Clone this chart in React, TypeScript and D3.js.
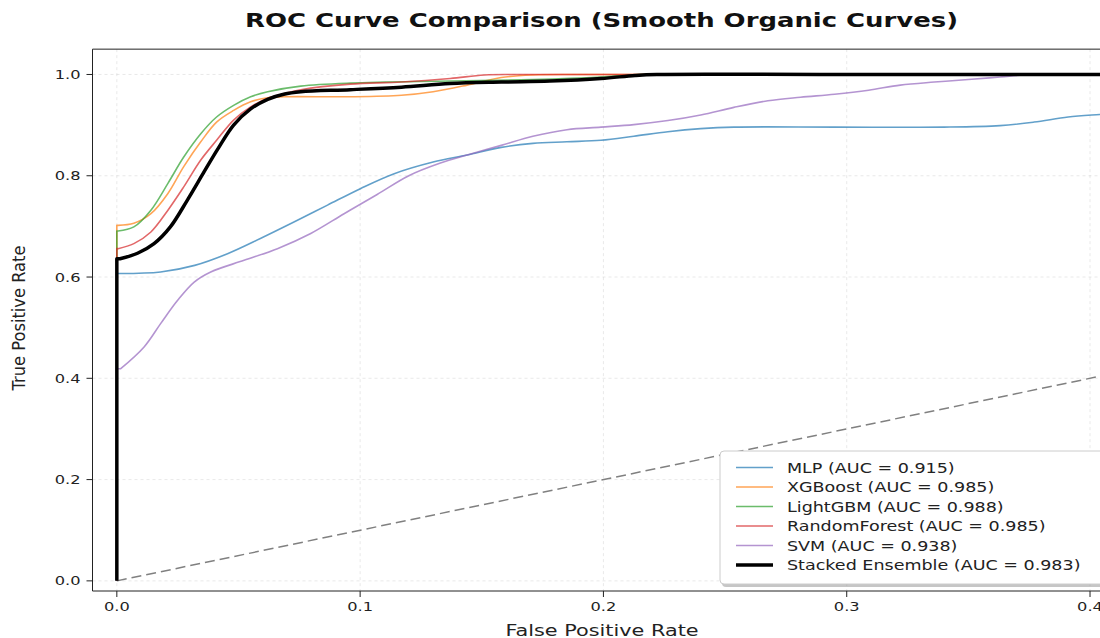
import React from "react";
import * as d3 from "d3";

// ROC points, [fpr, tpr]; each curve starts at (0,0)
const mlpRoc: [number, number][] = [
  [0.0016, 0.607], [0.018, 0.61], [0.032, 0.623], [0.0455, 0.646], [0.059, 0.676],
  [0.073, 0.709], [0.0866, 0.742], [0.1003, 0.775], [0.114, 0.804], [0.13, 0.827],
  [0.144, 0.841], [0.158, 0.856], [0.171, 0.864], [0.185, 0.867], [0.199, 0.87],
  [0.2125, 0.878], [0.2265, 0.887], [0.24, 0.893], [0.2536, 0.896], [0.295, 0.896],
  [0.34, 0.896], [0.363, 0.899], [0.377, 0.906], [0.391, 0.916], [0.404, 0.921],
  [0.42, 0.926],
];
const xgbRoc: [number, number][] = [
  [0.0005, 0.702], [0.007, 0.706], [0.014, 0.725], [0.021, 0.765], [0.0275, 0.818],
  [0.0345, 0.867], [0.041, 0.906], [0.048, 0.929], [0.055, 0.946], [0.062, 0.954],
  [0.0686, 0.956], [0.096, 0.956], [0.117, 0.959], [0.13, 0.966], [0.144, 0.979],
  [0.158, 0.994], [0.171, 0.999], [0.19, 1.0], [0.3, 1.0], [1.0, 1.0],
];
const lgbmRoc: [number, number][] = [
  [0.0005, 0.691], [0.007, 0.699], [0.014, 0.732], [0.021, 0.785], [0.0275, 0.837],
  [0.0345, 0.883], [0.041, 0.916], [0.048, 0.939], [0.055, 0.956], [0.062, 0.966],
  [0.0756, 0.977], [0.096, 0.983], [0.137, 0.987], [0.171, 0.99], [0.199, 0.995],
  [0.215, 1.0], [0.3, 1.0], [1.0, 1.0],
];
const rfRoc: [number, number][] = [
  [0.0005, 0.656], [0.007, 0.666], [0.014, 0.689], [0.021, 0.732], [0.0275, 0.778],
  [0.0345, 0.831], [0.041, 0.87], [0.048, 0.91], [0.055, 0.936], [0.062, 0.953],
  [0.0686, 0.962], [0.0756, 0.97], [0.096, 0.981], [0.117, 0.985], [0.137, 0.992],
  [0.151, 0.999], [0.165, 1.0], [0.3, 1.0], [1.0, 1.0],
];
const svmRoc: [number, number][] = [
  [0.0016, 0.419], [0.0112, 0.462], [0.018, 0.508], [0.025, 0.554], [0.0318, 0.59],
  [0.0386, 0.61], [0.0523, 0.633], [0.066, 0.656], [0.0797, 0.686], [0.0934, 0.725],
  [0.107, 0.763], [0.12, 0.8], [0.133, 0.825], [0.144, 0.841], [0.158, 0.86],
  [0.171, 0.878], [0.185, 0.891], [0.199, 0.896], [0.2125, 0.901], [0.2265, 0.909],
  [0.24, 0.92], [0.2536, 0.935], [0.2676, 0.948], [0.281, 0.955], [0.295, 0.961],
  [0.309, 0.969], [0.322, 0.979], [0.336, 0.985], [0.35, 0.99], [0.363, 0.995],
  [0.376, 1.0], [0.45, 1.0], [1.0, 1.0],
];
const stackedRoc: [number, number][] = [
  [0.0013, 0.636], [0.0085, 0.647], [0.0153, 0.666], [0.022, 0.699], [0.029, 0.752],
  [0.0359, 0.808], [0.0414, 0.852], [0.048, 0.9], [0.055, 0.932], [0.062, 0.951],
  [0.0686, 0.961], [0.0756, 0.966], [0.096, 0.97], [0.117, 0.975], [0.137, 0.982],
  [0.158, 0.985], [0.178, 0.987], [0.199, 0.992], [0.213, 0.998], [0.222, 1.0],
  [0.3, 1.0], [1.0, 1.0],
];

const modelNames = ["MLP", "XGBoost", "LightGBM", "RandomForest", "SVM", "Stacked Ensemble"];
const aucValues = [0.915, 0.985, 0.988, 0.985, 0.938, 0.983];
const rocCurves = [mlpRoc, xgbRoc, lgbmRoc, rfRoc, svmRoc, stackedRoc];
const curveColors = ["#1f77b4", "#ff7f0e", "#2ca02c", "#d62728", "#9467bd", "#000000"];

const xTicks = [0, 0.1, 0.2, 0.3, 0.4];
const yTicks = [0, 0.2, 0.4, 0.6, 0.8, 1.0];

const W = 1100;
const H = 638;
const FONT = "DejaVu Sans";
const SX = 1.3; // the reference is stretched wide, so text is too

export default function App() {
  // the frame starts at x=92 and runs past the right edge of the picture
  const x = d3.scaleLinear().domain([-0.01, 0.42]).range([92.5, 92.5 + 0.43 * 2433]);
  const y = d3.scaleLinear().domain([-0.02, 1.05]).range([591, 591 - 1.07 * 506.4]);
  const left = x(-0.01);
  const top = y(1.05);
  const bottom = y(-0.02);

  const line = d3.line<[number, number]>()
    .x(d => x(d[0]))
    .y(d => y(d[1]))
    .curve(d3.curveCatmullRom.alpha(0.5));

  // vertical jump at fpr=0, then the smooth part
  const rocPath = (pts: [number, number][]) =>
    `M${x(0)},${y(0)}L${x(0)},${y(pts[0][1])}` + "L" + (line(pts) || "").slice(1);

  const legendX = 720;
  const legendY = 451;
  const rowH = 19.5;

  return (
    <svg width={W} height={H} style={{position: "absolute", left: 0, top: 0, background: "#fff"}}
      fontFamily={FONT}>
      <defs>
        <clipPath id="plot-clip">
          <rect x={left} y={top} width={W - left + 20} height={bottom - top}/>
        </clipPath>
      </defs>
      <rect width={W} height={H} fill="#fff"/>

      {/* grid */}
      <g stroke="#b0b0b0" strokeOpacity={0.4} strokeWidth={0.7} strokeDasharray="3,3">
        {xTicks.map(t => <line key={"gx" + t} x1={x(t)} x2={x(t)} y1={top} y2={bottom}/>)}
        {yTicks.map(t => <line key={"gy" + t} x1={left} x2={W + 20} y1={y(t)} y2={y(t)}/>)}
      </g>

      <g clipPath="url(#plot-clip)">
        {/* chance diagonal */}
        <line x1={x(0)} y1={y(0)} x2={x(1)} y2={y(1)} stroke="#808080" strokeWidth={1.5}
          strokeDasharray="10,5"/>
        {rocCurves.map((pts, i) => (
          <path key={modelNames[i]} d={rocPath(pts)} fill="none" stroke={curveColors[i]}
            strokeOpacity={i === 5 ? 1 : 0.7} strokeWidth={i === 5 ? 3.5 : 1.6}
            strokeLinejoin="round"/>
        ))}
      </g>

      {/* frame */}
      <g stroke="#222" strokeWidth={1} fill="none">
        <line x1={left} x2={W + 20} y1={top} y2={top}/>
        <line x1={left} x2={W + 20} y1={bottom} y2={bottom}/>
        <line x1={left} x2={left} y1={top} y2={bottom}/>
      </g>

      {/* x axis */}
      {xTicks.map(t => (
        <g key={"xt" + t}>
          <line x1={x(t)} x2={x(t)} y1={bottom} y2={bottom + 6} stroke="#222"/>
          <text transform={`translate(${x(t)},${bottom + 19.5}) scale(${SX},1)`} textAnchor="middle"
            fontSize={12.5} fill="#222">{t.toFixed(1)}</text>
        </g>
      ))}
      {/* y axis */}
      {yTicks.map(t => (
        <g key={"yt" + t}>
          <line x1={left - 6} x2={left} y1={y(t)} y2={y(t)} stroke="#222"/>
          <text transform={`translate(${left - 12},${y(t) + 4.5}) scale(${SX},1)`} textAnchor="end"
            fontSize={12.5} fill="#222">{t.toFixed(1)}</text>
        </g>
      ))}

      <text transform={`translate(602,636) scale(${SX},1)`} textAnchor="middle" fontSize={16}
        fill="#222">False Positive Rate</text>
      <text transform="translate(25,318) rotate(-90) scale(1,1.15)" textAnchor="middle" fontSize={16}
        textLength={145} lengthAdjust="spacingAndGlyphs" fill="#222">True Positive Rate</text>
      <text x={601.5} y={26.5} textAnchor="middle" fontSize={19} fontWeight="bold"
        textLength={713} lengthAdjust="spacingAndGlyphs" fill="#111">
        ROC Curve Comparison (Smooth Organic Curves)
      </text>

      {/* legend */}
      <g>
        <rect x={legendX + 2} y={legendY + 3} width={400} height={133} rx={4} fill="#808080"
          fillOpacity={0.45}/>
        <rect x={legendX} y={legendY} width={400} height={133} rx={4} fill="#fff"
          stroke="#cccccc" strokeWidth={1}/>
        {modelNames.map((name, i) => {
          const cy = legendY + 16.5 + i * rowH;
          return (
            <g key={"lg" + name}>
              <line x1={736} x2={773} y1={cy} y2={cy} stroke={curveColors[i]}
                strokeOpacity={i === 5 ? 1 : 0.7} strokeWidth={i === 5 ? 3.5 : 1.6}/>
              <text transform={`translate(787,${cy + 5}) scale(1.27,1)`} fontSize={13.8}
                fill="#222">{`${name} (AUC = ${aucValues[i].toFixed(3)})`}</text>
            </g>
          );
        })}
      </g>
    </svg>
  );
}
